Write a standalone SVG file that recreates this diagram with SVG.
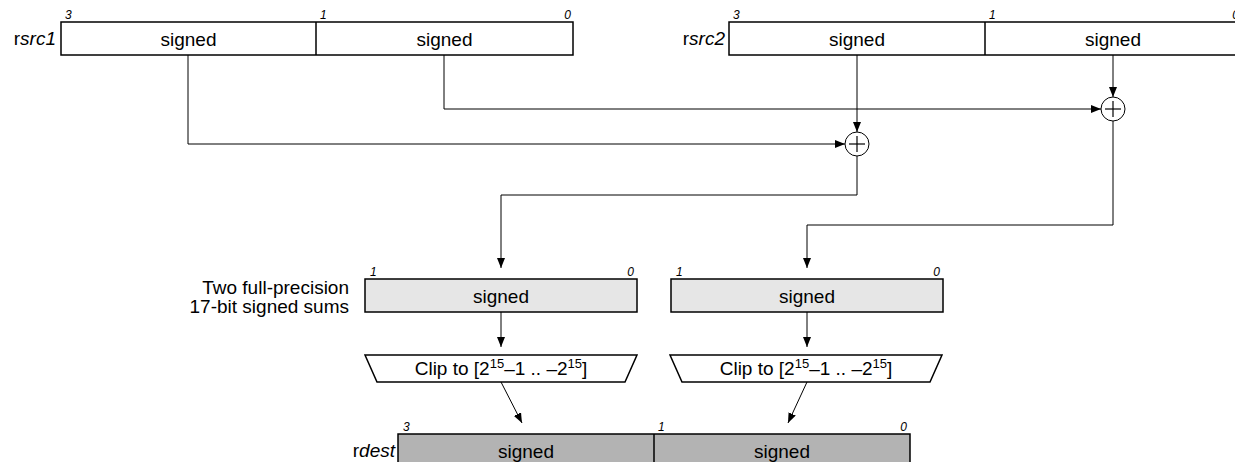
<svg xmlns="http://www.w3.org/2000/svg" width="1235" height="462" viewBox="0 0 1235 462">
<style>
text{font-family:"Liberation Sans",Arial,sans-serif;fill:#000}
.t{font-size:19px}
.c{text-anchor:middle}
.e{text-anchor:end}
.n{font-size:12px;font-style:italic}
.box{stroke:#000;stroke-width:1.5}
.w{fill:#fff}
.g1{fill:#e6e6e6}
.g2{fill:#b3b3b3}
.cn{fill:none;stroke:#000;stroke-width:1;marker-end:url(#ah)}
.add circle{fill:#fff;stroke:#000;stroke-width:1}
.add line{stroke:#000;stroke-width:1.2}
</style>
<defs>
<marker id="ah" markerUnits="userSpaceOnUse" markerWidth="10" markerHeight="8" refX="10" refY="4" orient="auto">
<path d="M0,0 L10,4 L0,8 z" fill="#000"/>
</marker>
</defs>

<g id="connectors">
<path class="cn" d="M188,55 V144 H845"/>
<path class="cn" d="M444,55 V109 H1101"/>
<path class="cn" d="M857,55 V132"/>
<path class="cn" d="M1113,55 V97"/>
<path class="cn" d="M857,156 V195 H501 V268"/>
<path class="cn" d="M1113,121 V225 H807 V268"/>
<path class="cn" d="M501,312 V347"/>
<path class="cn" d="M807,312 V347"/>
<path class="cn" d="M501,382 L522,423"/>
<path class="cn" d="M807,382 L788,423"/>
</g>

<g id="rsrc1">
<rect class="box w" x="61" y="22" width="512" height="33"/>
<line class="box" x1="316" y1="22" x2="316" y2="55"/>
<text class="t e" x="56" y="45">r<tspan font-style="italic">src1</tspan></text>
<text class="t c" x="188.5" y="45.5">signed</text>
<text class="t c" x="444.5" y="45.5">signed</text>
<text class="n" x="65" y="19">3</text>
<text class="n" x="320" y="19">1</text>
<text class="n e" x="571" y="19">0</text>
</g>

<g id="rsrc2">
<rect class="box w" x="729" y="22" width="512" height="33"/>
<line class="box" x1="985" y1="22" x2="985" y2="55"/>
<text class="t e" x="725" y="45">r<tspan font-style="italic">src2</tspan></text>
<text class="t c" x="857" y="45.5">signed</text>
<text class="t c" x="1113" y="45.5">signed</text>
<text class="n" x="733" y="19">3</text>
<text class="n" x="989" y="19">1</text>
<text class="n e" x="1239" y="19">0</text>
</g>

<g id="add1" class="add">
<circle cx="857" cy="144" r="12"/>
<line x1="849" y1="144" x2="865" y2="144"/>
<line x1="857" y1="136" x2="857" y2="152"/>
</g>

<g id="add2" class="add">
<circle cx="1113" cy="109" r="12"/>
<line x1="1105" y1="109" x2="1121" y2="109"/>
<line x1="1113" y1="101" x2="1113" y2="117"/>
</g>

<g id="sums-label">
<text class="t e" x="349" y="294">Two full-precision</text>
<text class="t e" x="349" y="313">17-bit signed sums</text>
</g>

<g id="sum1">
<rect class="box g1" x="365" y="279" width="272" height="33"/>
<text class="t c" x="501" y="302.5">signed</text>
<text class="n" x="370" y="276">1</text>
<text class="n e" x="634" y="276">0</text>
</g>

<g id="sum2">
<rect class="box g1" x="671" y="279" width="272" height="33"/>
<text class="t c" x="807" y="302.5">signed</text>
<text class="n" x="676" y="276">1</text>
<text class="n e" x="940" y="276">0</text>
</g>

<g id="clip1">
<polygon class="box w" points="365,355 637,355 625,382 377,382"/>
<text class="t c" x="501" y="375">Clip to [2<tspan font-size="13" dy="-7">15</tspan><tspan dy="7">–1 .. –2</tspan><tspan font-size="13" dy="-7">15</tspan><tspan dy="7">]</tspan></text>
</g>

<g id="clip2">
<polygon class="box w" points="670,355 942,355 930,382 682,382"/>
<text class="t c" x="806" y="375">Clip to [2<tspan font-size="13" dy="-7">15</tspan><tspan dy="7">–1 .. –2</tspan><tspan font-size="13" dy="-7">15</tspan><tspan dy="7">]</tspan></text>
</g>

<g id="rdest">
<rect class="box g2" x="398" y="434" width="512" height="33"/>
<line class="box" x1="654" y1="434" x2="654" y2="467"/>
<text class="t e" x="395" y="457">r<tspan font-style="italic">dest</tspan></text>
<text class="t c" x="526" y="457.5">signed</text>
<text class="t c" x="782" y="457.5">signed</text>
<text class="n" x="403" y="431">3</text>
<text class="n" x="658" y="431">1</text>
<text class="n e" x="907" y="431">0</text>
</g>
</svg>
